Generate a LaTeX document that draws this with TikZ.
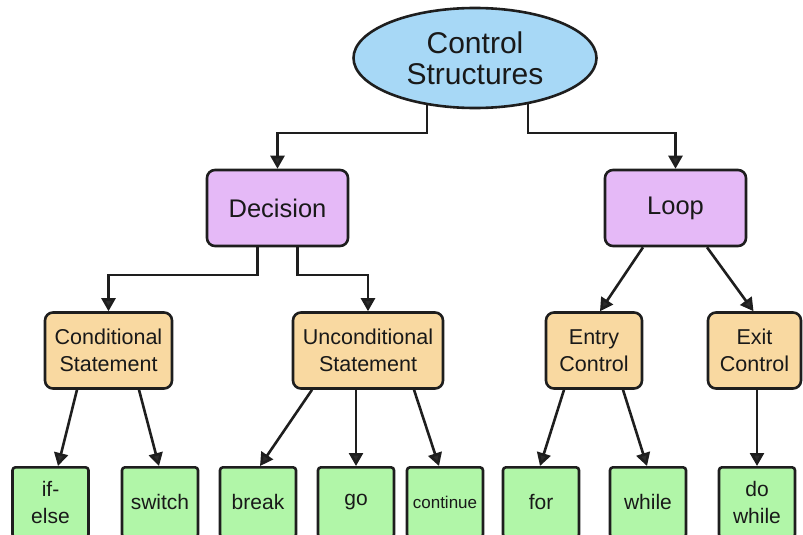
\documentclass[tikz,border=0pt]{standalone}
\usepackage{fontspec}
\setmainfont{Liberation Sans}
\usetikzlibrary{shapes.geometric,arrows.meta,backgrounds}

\definecolor{rootblue}{RGB}{167,216,246}
\definecolor{levelpurple}{RGB}{229,185,247}
\definecolor{midorange}{RGB}{249,217,161}
\definecolor{leafgreen}{RGB}{177,246,168}
\definecolor{inkline}{RGB}{30,30,30}
\definecolor{tipgray}{RGB}{45,45,45}

\tikzset{
  rootnode/.style={ellipse, draw=inkline, line width=2.6pt, fill=rootblue,
    minimum width=243pt, minimum height=100pt, inner sep=0pt,
    align=center, font=\fontsize{30}{31}\selectfont, text=black!90},
  levelbox/.style={rectangle, rounded corners=8pt, draw=inkline, line width=2.6pt,
    fill=levelpurple, minimum width=141pt, minimum height=76pt, inner sep=0pt,
    font=\fontsize{25.5}{28}\selectfont, text=black!90},
  midbox/.style={rectangle, rounded corners=8pt, draw=inkline, line width=2.6pt,
    fill=midorange, minimum height=76pt, inner sep=0pt, align=center,
    font=\fontsize{21.5}{27}\selectfont, text=black!90},
  leafbox/.style={rectangle, rounded corners=3pt, draw=inkline, line width=2.6pt,
    fill=leafgreen, minimum width=76pt, minimum height=70pt, inner sep=0pt,
    anchor=north, align=center, font=\fontsize{21}{27}\selectfont, text=black!90},
  conn/.style={draw=inkline, line width=2.6pt,
    -{Triangle[length=13pt,width=14pt,fill=tipgray]}},
}

\begin{document}
\begin{tikzpicture}[x=1pt,y=-1pt]
  \useasboundingbox (0,0) rectangle (803,535);
  \clip (0,0) rectangle (803,535);

  % root
  \node[rootnode] (cs) at (475,58) {Control\\Structures};

  % second level
  \node[levelbox] (dec)  at (277.5,208) {Decision};
  \node[levelbox] (loop) at (675.5,208) {Loop};

  % third level
  \node[midbox, minimum width=127pt] (cond)   at (108.5,350.5) {Conditional\\Statement};
  \node[midbox, minimum width=150pt] (uncond) at (368,350.5)   {Unconditional\\Statement};
  \node[midbox, minimum width=96pt]  (entry)  at (594,350.5)   {Entry\\Control};
  \node[midbox, minimum width=93pt]  (exit)   at (754.5,350.5) {Exit\\Control};

  % leaves
  \node[leafbox] (ifelse)  at (50.5,466) {if-\\else};
  \node[leafbox] (switch)  at (160,466)  {switch};
  \node[leafbox] (brk)     at (258,466)  {break};
  \node[leafbox] (go)      at (356,466)  {go};
  \node[leafbox, font=\fontsize{17}{20}\selectfont] (cont) at (445,466) {continue};
  \node[leafbox] (for)     at (541,466)  {for};
  \node[leafbox] (while)   at (648,466)  {while};
  \node[leafbox] (dowhile) at (757,466)  {do\\while};

  \begin{scope}[on background layer]
    % elbow connectors from the root
    \draw[conn] ([xshift=-48pt]cs.center) -- ++(0,75) -| (dec.north);
    \draw[conn] ([xshift=53pt]cs.center)  -- ++(0,75) -| (loop.north);
    % elbow connectors from Decision
    \draw[conn] ([xshift=-20pt]dec.center) -- ++(0,67) -| (cond.north);
    \draw[conn] ([xshift=20pt]dec.center)  -- ++(0,67) -| (uncond.north);
  \end{scope}

  % straight connectors
  \draw[conn] ([xshift=-32.5pt]loop.south) -- ([xshift=6pt]entry.north);
  \draw[conn] ([xshift=31.5pt]loop.south)  -- ([xshift=-1pt]exit.north);

  \draw[conn] ([xshift=-31.5pt]cond.south) -- ([xshift=7.5pt]ifelse.north);
  \draw[conn] ([xshift=30.5pt]cond.south)  -- ([xshift=-1pt]switch.north);

  \draw[conn] ([xshift=-56pt]uncond.south) -- ([xshift=2pt]brk.north);
  \draw[conn] (go.north |- uncond.south)   -- (go.north);
  \draw[conn] ([xshift=46pt]uncond.south)  -- ([xshift=-6pt]cont.north);

  \draw[conn] ([xshift=-30pt]entry.south) -- ([xshift=-1pt]for.north);
  \draw[conn] ([xshift=29pt]entry.south)  -- ([xshift=-1pt]while.north);
  \draw[conn] (dowhile.north |- exit.south) -- (dowhile.north);
\end{tikzpicture}
\end{document}
